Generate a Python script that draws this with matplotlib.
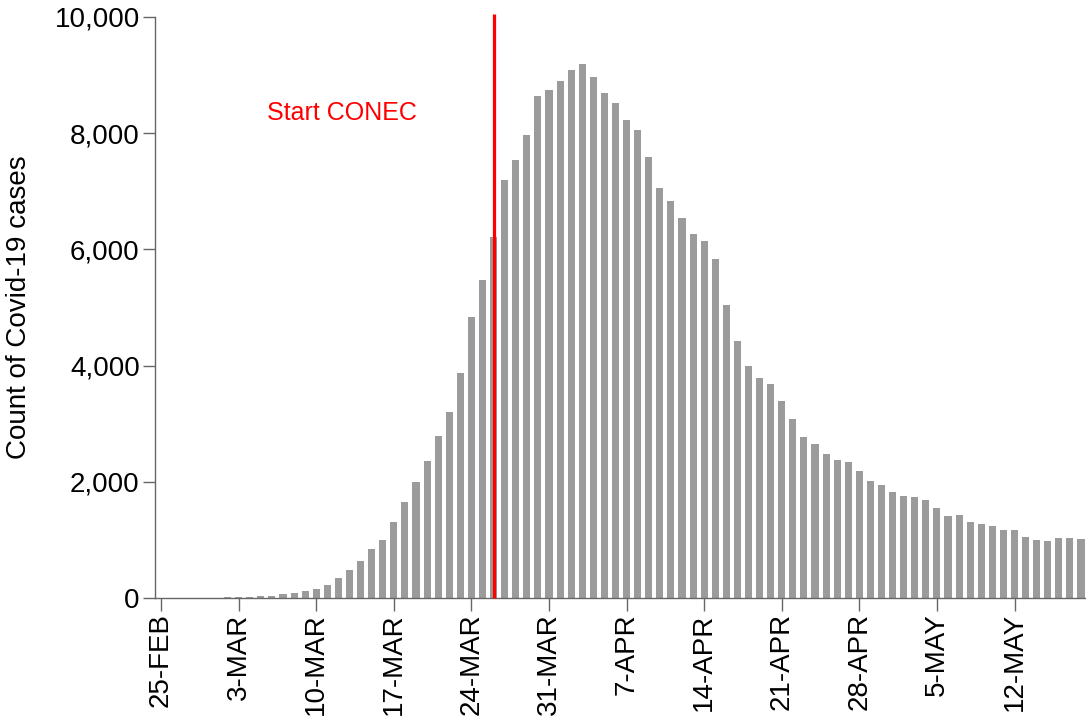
import matplotlib
matplotlib.use("Agg")
import matplotlib.pyplot as plt
import numpy as np

plt.rcParams['font.family'] = ['Liberation Sans', 'DejaVu Sans']

# Daily counts starting 25-FEB (index 0) through 18-MAY
cases = [0, 0, 1, 2, 3, 5, 10, 15, 20, 27,
         41, 61, 89, 123, 163, 232, 347, 490, 640, 838,
         1000, 1308, 1655, 1990, 2364, 2780, 3200, 3870, 4830, 5477,
         6220, 7200, 7540, 7960, 8630, 8740, 8890, 9090, 9190, 8960,
         8690, 8520, 8220, 8060, 7590, 7060, 6830, 6540, 6270, 6140,
         5830, 5050, 4430, 4000, 3780, 3690, 3390, 3075, 2765, 2650,
         2484, 2375, 2340, 2186, 2020, 1940, 1830, 1761, 1738, 1681,
         1555, 1411, 1423, 1302, 1268, 1239, 1176, 1165, 1044, 1004,
         987, 1027, 1027, 1010]

tick_labels = ["25-FEB", "3-MAR", "10-MAR", "17-MAR", "24-MAR", "31-MAR",
               "7-APR", "14-APR", "21-APR", "28-APR", "5-MAY", "12-MAY"]
tick_days = [0, 7, 14, 21, 28, 35, 42, 49, 56, 63, 70, 77]
yticks = [0, 2000, 4000, 6000, 8000, 10000]
start_day = 30
start_label = "Start CONEC"

fig = plt.figure(figsize=(10.86, 7.22), dpi=100)
ax = fig.add_axes([0.1427, 0.1717, 0.8573, 0.8050])

x = np.arange(len(cases))
ax.bar(x, cases, width=0.64, color='#9b9b9b', zorder=2)

ax.plot([start_day, start_day], [0, 10050], color='#ff0000', lw=2.3,
        zorder=3, clip_on=False, solid_capstyle='butt')
ax.text(16.3, 8350, start_label, color='#ff0000', fontsize=18,
        ha='center', va='center')

ax.set_xlim(-0.55, 83.45)
ax.set_ylim(0, 10000)
ax.set_xticks(tick_days)
ax.set_xticklabels(tick_labels, rotation=90, fontsize=20)
ax.set_yticks(yticks)
ax.set_yticklabels([f"{v:,}" for v in yticks], fontsize=20)
ax.set_ylabel("Count of Covid-19 cases", fontsize=20, labelpad=16)

for s in ['top', 'right']:
    ax.spines[s].set_visible(False)
for s in ['left', 'bottom']:
    ax.spines[s].set_color('#666666')
    ax.spines[s].set_linewidth(1.0)
ax.tick_params(axis='both', direction='out', length=9, width=1.0,
               color='#666666', pad=2)

fig.savefig("out.png", dpi=100)
